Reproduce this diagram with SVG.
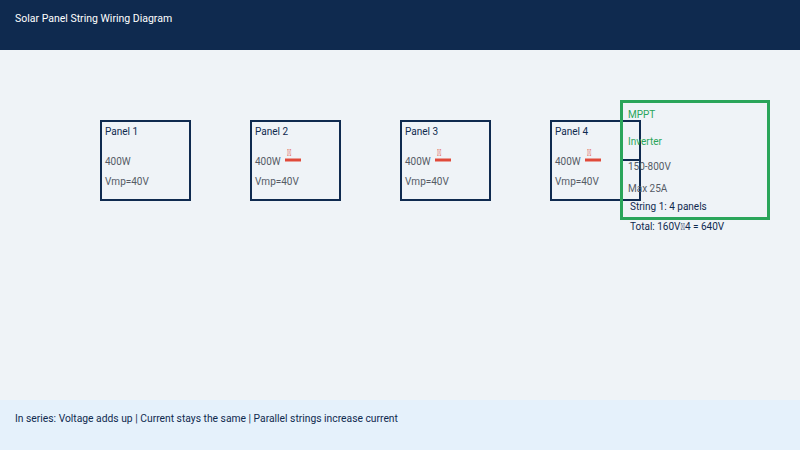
<svg xmlns="http://www.w3.org/2000/svg" width="800" height="450" viewBox="0 0 800 450">
<style>
text{font-family:Roboto,"Liberation Sans",sans-serif}
.panel{fill:none;stroke:#0f2a4f;stroke-width:2}
.pt{font-size:10px;fill:#0f2a4f}
.pv{font-size:10px;fill:#555b66}
.term{stroke:#e04a3a;stroke-width:3}
.tofu{font-size:10px;fill:#e04a3a}
.gt{font-size:10px;fill:#2aa55a}
.nt{font-size:10px;fill:#0f2a4f}
</style>
<rect x="0" y="0" width="800" height="450" fill="#eff3f7"/>
<rect x="0" y="0" width="800" height="50" fill="#0f2a4f"/>
<text x="15" y="22" font-size="10.5" fill="#ffffff">Solar Panel String Wiring Diagram</text>
<rect x="0" y="400" width="800" height="50" fill="#e5f1fb"/>
<text x="15" y="422" font-size="10.3" fill="#0f2a4f">In series: Voltage adds up | Current stays the same | Parallel strings increase current</text>
<g id="panel1">
<rect class="panel" x="101" y="121" width="89" height="79"/>
<text class="pt" x="105" y="135">Panel 1</text>
<text class="pv" x="105" y="165">400W</text>
<text class="pv" x="105" y="185">Vmp=40V</text>
</g>
<g id="panel2">
<rect class="panel" x="251" y="121" width="89" height="79"/>
<text class="pt" x="255" y="135">Panel 2</text>
<text class="pv" x="255" y="165">400W</text>
<text class="pv" x="255" y="185">Vmp=40V</text>
</g>
<g id="panel3">
<rect class="panel" x="401" y="121" width="89" height="79"/>
<text class="pt" x="405" y="135">Panel 3</text>
<text class="pv" x="405" y="165">400W</text>
<text class="pv" x="405" y="185">Vmp=40V</text>
</g>
<g id="panel4">
<rect class="panel" x="551" y="121" width="89" height="79"/>
<text class="pt" x="555" y="135">Panel 4</text>
<text class="pv" x="555" y="165">400W</text>
<text class="pv" x="555" y="185">Vmp=40V</text>
</g>
<g id="connectors">
<line class="term" x1="285" y1="160" x2="301" y2="160"/>
<text class="tofu" x="287" y="156">&#xE000;</text>
<line class="term" x1="435" y1="160" x2="451" y2="160"/>
<text class="tofu" x="437" y="156">&#xE000;</text>
<line class="term" x1="585" y1="160" x2="601" y2="160"/>
<text class="tofu" x="587" y="156">&#xE000;</text>
<line x1="621" y1="160" x2="640" y2="160" stroke="#0f2a4f" stroke-width="2"/>
</g>
<g id="inverter">
<rect x="621.5" y="101.5" width="147" height="117" fill="none" stroke="#2aa55a" stroke-width="3"/>
<text class="gt" x="628" y="118">MPPT</text>
<text class="gt" x="628" y="145">Inverter</text>
<text class="pv" x="628" y="170">150-800V</text>
<text class="pv" x="628" y="192">Max 25A</text>
<text class="nt" x="630" y="210">String 1: 4 panels</text>
<text class="nt" x="630" y="230">Total: 160V&#xE000;4 = 640V</text>
</g>
</svg>
